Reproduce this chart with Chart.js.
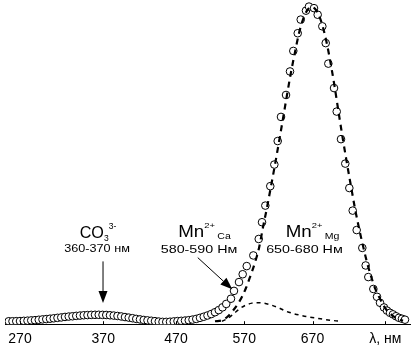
<!DOCTYPE html>
<html>
<head>
<meta charset="utf-8">
<script src="https://cdn.jsdelivr.net/npm/chart.js@4.4.1/dist/chart.umd.min.js"></script>
<style>
  html, body { margin: 0; padding: 0; background: #fff; }
  #wrap { width: 414px; height: 355px; }
</style>
</head>
<body>
<div id="wrap"><canvas id="chart"></canvas></div>
<script>
// ---------- Axis labels ----------
const xTickPos = [270, 381, 478, 569, 660, 757];
const xTickLabels = ['270', '370', '470', '570', '670', 'λ, нм'];

// ---------- Measured spectrum (open circles) ----------
const specX = [
  255, 260, 265, 270, 275, 280, 285, 290, 295, 300, 305, 310, 315, 320, 325, 330,
  335, 340, 345, 350, 355, 360, 365, 370, 375, 380, 385, 390, 395, 400, 405, 410,
  415, 420, 425, 430, 435, 440, 445, 450, 455, 460, 465, 470, 475, 480, 485, 490,
  495, 500, 505, 510, 515, 520, 525, 530, 535, 540, 545,
  551.3, 555.3, 562, 566.9, 572.3, 581.1, 588.3, 592.7, 597.1, 603.7, 609.1, 613.6,
  618, 624.7, 630, 634.4, 640.3, 644.3, 651.3, 655.3, 662, 666.9, 673.1, 677.6,
  681.1, 688.7, 692.3, 698, 703.7, 709.1, 713.6, 718.9, 726.4, 730.9, 734.4, 741.1,
  746, 750, 755.3, 759.3, 763.3, 767.3, 771.3, 775.3, 779.3, 783.3
];
const specY = [
  0, 0, 0.03, 0.06, 0.13, 0.19, 0.28, 0.34, 0.47, 0.59, 0.69, 0.81, 0.94, 1.09, 1.22, 1.38,
  1.5, 1.59, 1.72, 1.81, 1.91, 1.97, 2.03, 2.06, 2.06, 2.03, 2.0, 1.91, 1.81, 1.69, 1.53, 1.34,
  1.16, 0.97, 0.75, 0.59, 0.41, 0.28, 0.16, 0.03, -0.1, -0.2, -0.2, -0.15, -0.05, 0.06, 0.13, 0.22,
  0.34, 0.53, 0.75, 1.09, 1.44, 1.84, 2.31, 2.88, 3.56, 4.44, 5.53,
  7.19, 9.69, 12.5, 15, 17.6, 21.0, 26.25, 31.6, 36.9, 43.1, 50, 57.5,
  65.2, 72.2, 79.7, 86.25, 91.9, 96.25, 99.1, 100.4, 99.9, 97.8, 94.1, 88.75,
  82.2, 74.4, 66.9, 58.1, 50.3, 42.5, 35.3, 29.1, 23.4, 17.8, 14.1, 10.3,
  7.8, 5.9, 4.4, 3.4, 2.7, 2.2, 1.6, 1.1, 0.8, 0.5
];

// ---------- Mn2+ (Mg) fitted band ----------
const mgX = [
  530, 539.3, 547.3, 554, 560.7, 566, 571.3, 576.7, 583.3, 588.7, 594, 599.3, 604.7,
  610, 615.3, 620.7, 626, 631.3, 636.7, 642, 647.3, 652.7, 658, 663.3, 668.7, 674,
  679.3, 684.7, 690, 695.3, 700.7, 706, 711.3, 716.7, 722, 727.3, 732.7, 738, 743.3,
  748.7, 754, 759.3, 764.7, 770, 775.3, 780.7
];
const mgY = [
  0, 0.3, 1.6, 3.4, 5.6, 7.8, 10.6, 14.1, 18.75, 23.4, 30, 36.25, 43.1,
  50, 57.2, 64.7, 72.2, 79.4, 85.9, 91.9, 96.25, 99.1, 100.3, 99.7, 97.5, 93.75,
  88.4, 81.6, 74.1, 65.9, 57.8, 50.3, 43.1, 35.9, 29.7, 24.1, 18.75, 14.4, 10.6,
  7.8, 5.3, 3.4, 2.2, 1.25, 0.6, 0.16
];

// ---------- Mn2+ (Ca) fitted band ----------
const caX = [
  539.3, 547.3, 555.3, 563.3, 571.3, 579.3, 587.3, 595.3, 603.3, 614, 624.7, 635.3,
  646, 656.7, 667.3, 678, 688.7, 699.3
];
const caY = [
  0, 0.94, 2.5, 4.06, 5.16, 5.78, 5.94, 5.78, 5.3, 4.4, 3.2, 2.4,
  1.8, 1.3, 0.9, 0.5, 0.2, 0
];

const toPoints = (xs, ys) => xs.map((v, i) => ({ x: v, y: ys[i] }));

const FONT = '"Liberation Sans", Arial, sans-serif';

// draws a run of text pieces (normal / sub / sup) centred on cx, stretched by sx
function drawRun(ctx, parts, cx, base, sx) {
  let total = 0;
  parts.forEach(p => {
    ctx.font = p.size + 'px ' + FONT;
    p.w = ctx.measureText(p.t).width + (p.gap || 0);
    total += p.w;
  });
  ctx.save();
  ctx.translate(cx, base);
  ctx.scale(sx || 1, 1);
  let x = -total / 2;
  parts.forEach(p => {
    ctx.font = p.size + 'px ' + FONT;
    ctx.fillText(p.t, x + (p.gap || 0), p.dy || 0);
    x += p.w;
  });
  ctx.restore();
}

function drawArrow(ctx, x1, y1, x2, y2) {
  const ang = Math.atan2(y2 - y1, x2 - x1);
  const len = 12, half = 4.5;
  ctx.beginPath();
  ctx.moveTo(x1, y1);
  ctx.lineTo(x2 - Math.cos(ang) * len, y2 - Math.sin(ang) * len);
  ctx.stroke();
  ctx.beginPath();
  ctx.moveTo(x2, y2);
  ctx.lineTo(x2 - Math.cos(ang) * len - Math.sin(ang) * half, y2 - Math.sin(ang) * len + Math.cos(ang) * half);
  ctx.lineTo(x2 - Math.cos(ang) * len + Math.sin(ang) * half, y2 - Math.sin(ang) * len - Math.cos(ang) * half);
  ctx.closePath();
  ctx.fill();
}

// ---------- Labels, arrows, inward tick marks ----------
const annotations = {
  id: 'annotations',
  afterDraw(chart) {
    const { ctx, scales: { x, y }, chartArea } = chart;
    const px = v => x.getPixelForValue(v);
    const py = v => y.getPixelForValue(v);
    ctx.save();
    ctx.fillStyle = '#000';
    ctx.strokeStyle = '#000';
    ctx.textBaseline = 'alphabetic';
    ctx.textAlign = 'left';

    drawRun(ctx, [
      { t: 'CO', size: 17 },
      { t: '3', size: 9, dy: 3 },
      { t: '3-', size: 9, dy: -9 }
    ], px(374), py(26.6), 0.95);
    drawRun(ctx, [{ t: '360-370 нм', size: 11 }], px(372.7), py(22.2), 1.15);

    drawRun(ctx, [
      { t: 'Mn', size: 16 },
      { t: '2+', size: 8, dy: -9 },
      { t: 'Ca', size: 9, dy: 2, gap: 2 }
    ], px(516), py(26.8), 1.17);
    drawRun(ctx, [{ t: '580-590 Нм', size: 11 }], px(508.7), py(21.9), 1.3);

    drawRun(ctx, [
      { t: 'Mn', size: 16 },
      { t: '2+', size: 8, dy: -9 },
      { t: 'Mg', size: 9, dy: 2, gap: 2 }
    ], px(660), py(26.9), 1.17);
    drawRun(ctx, [{ t: '650-680 Нм', size: 11 }], px(649.3), py(21.9), 1.3);

    ctx.lineWidth = 1;
    drawArrow(ctx, px(380.7), py(19.1), px(380.7), py(5.8));
    drawArrow(ctx, px(507), py(20.3), px(553), py(10.2));

    // small upward ticks on the axis line
    x.ticks.forEach(t => {
      const xx = Math.round(px(t.value)) + 0.5;
      ctx.beginPath();
      ctx.moveTo(xx, chartArea.bottom);
      ctx.lineTo(xx, chartArea.bottom - 3);
      ctx.stroke();
    });
    ctx.restore();
  }
};

new Chart(document.getElementById('chart'), {
  type: 'line',
  data: {
    datasets: [
      {
        label: 'Mn Mg',
        data: toPoints(mgX, mgY),
        borderColor: '#000',
        borderWidth: 2.2,
        borderDash: [6, 5],
        pointRadius: 0,
        fill: false,
        cubicInterpolationMode: 'monotone',
        order: 1
      },
      {
        label: 'Mn Ca',
        data: toPoints(caX, caY),
        borderColor: '#000',
        borderWidth: 1.5,
        borderDash: [4, 4],
        pointRadius: 0,
        fill: false,
        cubicInterpolationMode: 'monotone',
        order: 1
      },
      {
        label: 'spectrum',
        data: toPoints(specX, specY),
        showLine: false,
        pointRadius: 3.8,
        pointBorderWidth: 1,
        pointBorderColor: '#000',
        pointBackgroundColor: '#fff',
        order: 2
      }
    ]
  },
  options: {
    responsive: true,
    maintainAspectRatio: false,
    animation: false,
    layout: { autoPadding: false, padding: { left: 5, right: 4, top: 0, bottom: 0 } },
    plugins: { legend: { display: false }, tooltip: { enabled: false } },
    scales: {
      x: {
        type: 'linear',
        min: 250,
        max: 790,
        afterBuildTicks: axis => { axis.ticks = xTickPos.map(v => ({ value: v })); },
        grid: { display: false, drawTicks: false },
        border: { display: true, color: '#000', width: 1 },
        ticks: {
          autoSkip: false,
          maxRotation: 0,
          padding: 7,
          color: '#000',
          font: { family: FONT, size: 14 },
          callback: v => xTickLabels[xTickPos.indexOf(v)]
        }
      },
      y: {
        display: false,
        min: -0.94,
        max: 102.5
      }
    }
  },
  plugins: [annotations]
});
</script>
</body>
</html>
